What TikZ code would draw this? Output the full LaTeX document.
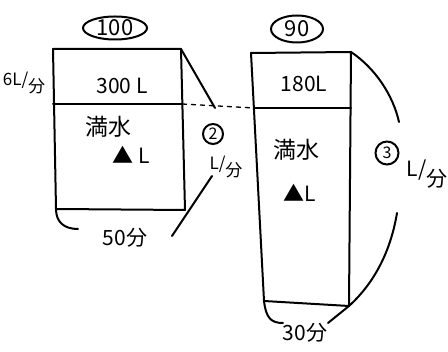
\documentclass[tikz,border=0pt]{standalone}
\usepackage{fontspec}
\newfontfamily\cjk{Noto Sans CJK JP}
\usetikzlibrary{shapes.geometric}
\begin{document}
\begin{tikzpicture}[x=1pt,y=-1pt,
  ink/.style={line width=2pt, line cap=round, line join=round},
  lbl/.style={font=\cjk\fontsize{21}{21}\selectfont, inner sep=0pt},
  big/.style={font=\cjk\fontsize{23}{23}\selectfont, inner sep=0pt},
  small/.style={font=\cjk\fontsize{17}{17}\selectfont, inner sep=0pt},
  oval/.style={ellipse, draw, line width=2pt, inner sep=0pt, font=\cjk\fontsize{22}{22}\selectfont},
  ring/.style={circle, draw, line width=2pt, inner sep=0pt, font=\cjk\fontsize{16}{16}\selectfont}]
\useasboundingbox (0,0) rectangle (448,352);
% left tank
\coordinate (A1) at (53,49);
\coordinate (A2) at (181,49);
\coordinate (A3) at (185,210);
\coordinate (A4) at (56,209);
\coordinate (A5) at (53,104);
\coordinate (A6) at (182,104);
\draw[ink] (A1) -- (A2) -- (A3) -- (A4) -- cycle;
\draw[ink] (A5) -- (A6);
% right tank
\coordinate (B1) at (251,53);
\coordinate (B2) at (351,52);
\coordinate (B3) at (349,306);
\coordinate (B4) at (264,301);
\coordinate (B5) at (254,108);
\coordinate (B6) at (351,108);
\draw[ink] (B1) -- (B2) -- (B3) -- (B4) -- cycle;
\draw[ink] (B5) -- (B6);
% dashed level line
\draw[line width=1.3pt, dash pattern=on 5pt off 4pt] (A6) -- (B5);
% left bracket
\coordinate (L1) at (215,108);
\coordinate (L2) at (212,176);
\coordinate (L3) at (172,236);
\coordinate (L4) at (78,229);
\draw[ink] (A2) -- (L1);
\draw[ink] (L2) -- (L3);
\draw[ink] (A4) .. controls (56,222) and (64,229) .. (L4);
% right bracket
\coordinate (R1) at (399,122);
\coordinate (R2) at (397,213);
\coordinate (R3) at (328,323);
\coordinate (R4) at (283,323);
\draw[ink] (B2) .. controls (375,68) and (393,95) .. (R1);
\draw[ink] (R2) .. controls (390,255) and (372,285) .. (B3) -- (R3);
\draw[ink] (B4) .. controls (266,318) and (271,323) .. (R4);
% labels
\node[oval, minimum width=64pt, minimum height=23pt] (n100) at (115,28) {100};
\node[oval, minimum width=52pt, minimum height=27pt] (n90) at (297,29) {90};
\node[lbl] (v300) at (122,86) {300 L};
\node[lbl] (v180) at (304,84) {180L};
\node[big] (m1) at (108,127) {満水};
\node[big] (m2) at (296,150) {満水};
\node[lbl] (t1) at (131,155) {▲ L};
\node[lbl] (t2) at (300,193) {▲L};
\node[small] (f6) at (24,83) {6L/\raisebox{-0.8ex}{分}};
\node[lbl] (t50) at (125,238) {50分};
\node[lbl] (t30) at (305,333) {30分};
\node[ring, minimum size=20pt] (c2) at (213,134) {2};
\node[small] (u2) at (226,167) {L/\raisebox{-0.8ex}{分}};
\node[ring, minimum size=23pt] (c3) at (387,153) {3};
\node[lbl] (u3) at (427,174) {L/\raisebox{-0.8ex}{分}};
\end{tikzpicture}
\end{document}
